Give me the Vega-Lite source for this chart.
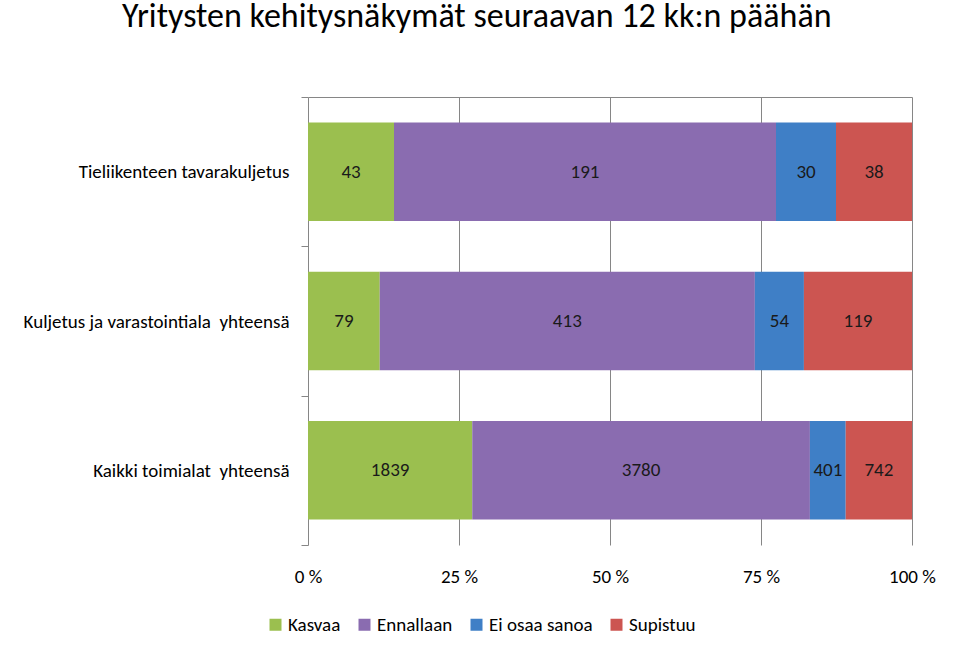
{
  "$schema": "https://vega.github.io/schema/vega-lite/v6.json",
  "autosize": {"type": "none"},
  "width": 604,
  "height": 448,
  "padding": {"left": 308, "top": 97, "right": 48, "bottom": 112},
  "background": "white",
  "config": {
    "font": "Carlito, Lato, sans-serif",
    "view": {"stroke": null}
  },
  "title": {
    "text": "Yritysten kehitysnäkymät seuraavan 12 kk:n päähän",
    "anchor": "start",
    "frame": "group",
    "dx": -186,
    "offset": 54,
    "fontSize": 34,
    "fontWeight": "normal",
    "color": "#000000",
    "font": "Carlito, Lato, sans-serif"
  },
  "data": {
    "values": [
      {"category": "Tieliikenteen tavarakuljetus", "series": "Kasvaa", "value": 43},
      {"category": "Tieliikenteen tavarakuljetus", "series": "Ennallaan", "value": 191},
      {"category": "Tieliikenteen tavarakuljetus", "series": "Ei osaa sanoa", "value": 30},
      {"category": "Tieliikenteen tavarakuljetus", "series": "Supistuu", "value": 38},
      {"category": "Kuljetus ja varastointiala\u00a0 yhteensä", "series": "Kasvaa", "value": 79},
      {"category": "Kuljetus ja varastointiala\u00a0 yhteensä", "series": "Ennallaan", "value": 413},
      {"category": "Kuljetus ja varastointiala\u00a0 yhteensä", "series": "Ei osaa sanoa", "value": 54},
      {"category": "Kuljetus ja varastointiala\u00a0 yhteensä", "series": "Supistuu", "value": 119},
      {"category": "Kaikki toimialat\u00a0 yhteensä", "series": "Kasvaa", "value": 1839},
      {"category": "Kaikki toimialat\u00a0 yhteensä", "series": "Ennallaan", "value": 3780},
      {"category": "Kaikki toimialat\u00a0 yhteensä", "series": "Ei osaa sanoa", "value": 401},
      {"category": "Kaikki toimialat\u00a0 yhteensä", "series": "Supistuu", "value": 742}
    ]
  },
  "transform": [
    {"calculate": "indexof(['Kasvaa','Ennallaan','Ei osaa sanoa','Supistuu'], datum.series)", "as": "ord"},
    {"stack": "value", "groupby": ["category"], "sort": [{"field": "ord", "order": "ascending"}], "offset": "normalize", "as": ["x0", "x1"]},
    {"calculate": "(datum.x0 + datum.x1) / 2", "as": "xmid"}
  ],
  "encoding": {
    "y": {
      "field": "category",
      "type": "nominal",
      "sort": ["Tieliikenteen tavarakuljetus", "Kuljetus ja varastointiala\u00a0 yhteensä", "Kaikki toimialat\u00a0 yhteensä"],
      "scale": {"paddingInner": 0, "paddingOuter": 0},
      "axis": {
        "title": null,
        "domain": false,
        "ticks": true,
        "tickBand": "extent",
        "tickSize": 7,
        "tickColor": "#868686",
        "labelPadding": 12,
        "labelFontSize": 19,
        "labelColor": "#000000",
        "labelLimit": 400
      }
    }
  },
  "layer": [
    {
      "mark": {"type": "bar", "height": {"band": 0.66}},
      "encoding": {
        "x": {
          "field": "x0",
          "type": "quantitative",
          "scale": {"domain": [0, 1], "nice": false},
          "axis": {
            "title": null,
            "values": [0, 0.25, 0.5, 0.75, 1],
            "labelExpr": "round(datum.value * 100) + ' %'",
            "grid": true,
            "gridColor": "#868686",
            "gridOpacity": 1,
            "domain": false,
            "ticks": false,
            "labelPadding": 22,
            "labelFontSize": 19,
            "labelColor": "#000000",
            "labelFlush": false
          }
        },
        "x2": {"field": "x1"},
        "color": {
          "field": "series",
          "type": "nominal",
          "scale": {
            "domain": ["Kasvaa", "Ennallaan", "Ei osaa sanoa", "Supistuu"],
            "range": ["#9bbf4f", "#8a6cb0", "#3f7fc6", "#cc5551"]
          },
          "legend": {
            "title": null,
            "orient": "none",
            "direction": "horizontal",
            "legendX": -42,
            "legendY": 518,
            "symbolType": "square",
            "symbolSize": 144,
            "symbolStrokeWidth": 0,
            "labelFontSize": 19,
            "labelColor": "#000000",
            "columnPadding": 14,
            "labelOffset": 3
          }
        }
      }
    },
    {
      "mark": {"type": "text", "fontSize": 19, "color": "#1a1a1a"},
      "encoding": {
        "x": {
          "field": "xmid",
          "type": "quantitative",
          "axis": {
            "orient": "top",
            "title": null,
            "labels": false,
            "ticks": false,
            "grid": false,
            "domain": true,
            "domainColor": "#868686"
          }
        },
        "text": {"field": "value", "type": "quantitative"}
      }
    }
  ],
  "resolve": {"axis": {"x": "independent"}}
}
